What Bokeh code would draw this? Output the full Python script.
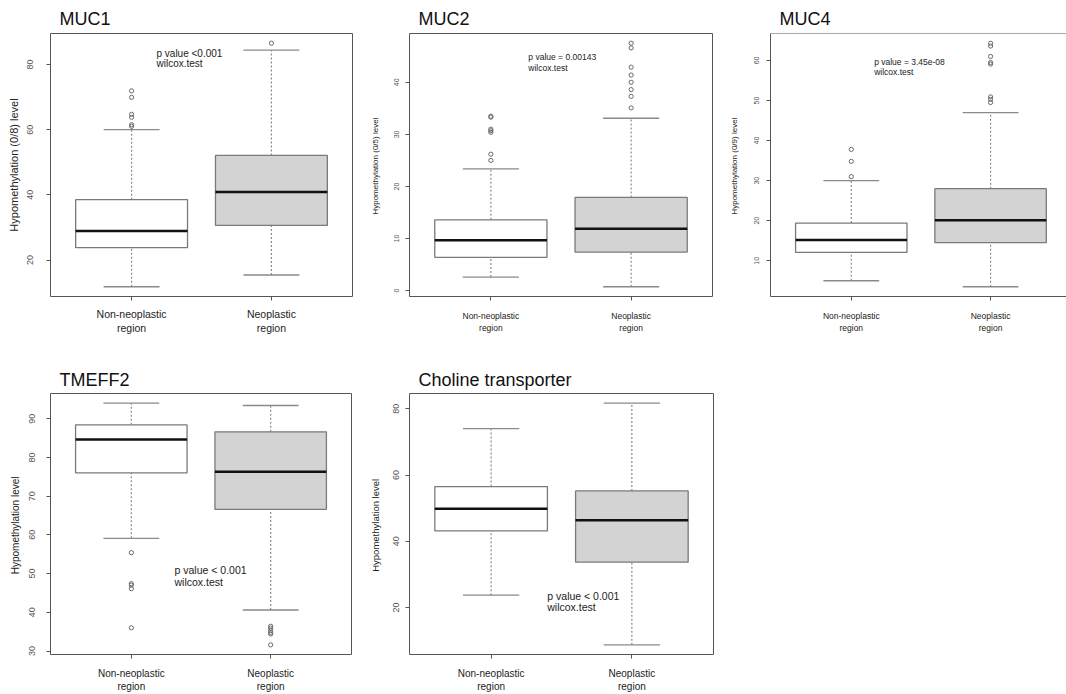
from bokeh.plotting import figure
from bokeh.models import Range1d, FixedTicker, Label, Span
from bokeh.layouts import column, row
from bokeh.embed import file_html
from bokeh.resources import INLINE

FONT = "Liberation Sans"

# ---------------- data ----------------
groups = ["Non-neoplastic\nregion", "Neoplastic\nregion"]

titles = ["MUC1", "MUC2", "MUC4", "TMEFF2", "Choline transporter"]
ylabels = ["Hypomethylation (0/8) level", "Hypomethylation  (0/5) level",
           "Hypomethylation  (0/9) level", "Hypomethylation  level", "Hypomethylation  level"]
yticks = [[20, 40, 60, 80], [0, 10, 20, 30, 40], [10, 20, 30, 40, 50, 60],
          [30, 40, 50, 60, 70, 80, 90], [20, 40, 60, 80]]
ptext = [["p value <0.001", "wilcox.test"],
         ["p value  = 0.00143", " wilcox.test"],
         ["p value  = 3.45e-08", "wilcox.test"],
         ["p value  < 0.001", "wilcox.test"],
         ["p value  < 0.001", "wilcox.test"]]

# box statistics: [non-neoplastic, neoplastic]
muc1_low = [11.8, 15.4]
muc1_q1 = [23.8, 30.6]
muc1_med = [28.9, 40.9]
muc1_q3 = [38.5, 52.1]
muc1_high = [60.0, 84.4]
muc1_out_non = [61.0, 61.5, 63.8, 64.7, 69.9, 71.9]
muc1_out_neo = [86.5]

muc2_low = [2.6, 0.75]
muc2_q1 = [6.4, 7.4]
muc2_med = [9.7, 11.9]
muc2_q3 = [13.6, 17.9]
muc2_high = [23.4, 33.1]
muc2_out_non = [25.0, 26.2, 30.4, 30.7, 31.0, 33.3, 33.5]
muc2_out_neo = [35.1, 37.3, 38.6, 40.0, 41.4, 42.9, 46.6, 47.5]

muc4_low = [5.0, 3.5]
muc4_q1 = [12.1, 14.5]
muc4_med = [15.2, 20.1]
muc4_q3 = [19.4, 28.0]
muc4_high = [30.0, 47.0]
muc4_out_non = [31.0, 34.8, 37.8]
muc4_out_neo = [49.5, 50.3, 50.9, 59.1, 59.5, 61.0, 63.6, 64.3]

tmeff2_low = [59.1, 40.6]
tmeff2_q1 = [76.0, 66.6]
tmeff2_med = [84.6, 76.3]
tmeff2_q3 = [88.4, 86.6]
tmeff2_high = [94.0, 93.4]
tmeff2_out_non = [55.4, 47.4, 47.0, 46.1, 36.0]
tmeff2_out_neo = [36.4, 35.9, 35.3, 34.8, 34.4, 31.6]

chol_low = [23.7, 8.7]
chol_q1 = [43.1, 33.7]
chol_med = [49.8, 46.3]
chol_q3 = [56.5, 55.2]
chol_high = [74.0, 81.7]
chol_out_non = []
chol_out_neo = []

stats = [
    (muc1_low, muc1_q1, muc1_med, muc1_q3, muc1_high, muc1_out_non, muc1_out_neo),
    (muc2_low, muc2_q1, muc2_med, muc2_q3, muc2_high, muc2_out_non, muc2_out_neo),
    (muc4_low, muc4_q1, muc4_med, muc4_q3, muc4_high, muc4_out_non, muc4_out_neo),
    (tmeff2_low, tmeff2_q1, tmeff2_med, tmeff2_q3, tmeff2_high, tmeff2_out_non, tmeff2_out_neo),
    (chol_low, chol_q1, chol_med, chol_q3, chol_high, chol_out_non, chol_out_neo),
]

# ---------------- layout / style per panel ----------------
cfg = [
    dict(w=360, h=345, bl=50, br=8, bt=33, bb=49, xend=2.58, tf="9px", lf="11px", xf="10.5px", pf="10px",
         ms=13, ls=5, xs=7, ts=10, pos=(1.178, 83.4, 80.3)),
    dict(w=360, h=345, bl=49, br=8, bt=33, bb=43, xend=2.58, tf="7px", lf="8px", xf="8.5px", pf="8.5px",
         ms=6, ls=12, xs=10, ts=10, pos=(1.267, 44.8, 42.7)),
    dict(w=346, h=345, bl=50, br=0, bt=33, bb=43, xend=2.545, tf="7px", lf="8px", xf="8.5px", pf="8.5px",
         ms=7, ls=13, xs=10, ts=10, pos=(1.164, 59.5, 57.2)),
    dict(w=360, h=349, bl=50, br=9, bt=48, bb=38, xend=2.58, tf="9px", lf="10px", xf="10px", pf="10.5px",
         ms=11, ls=6, xs=9, ts=8, pos=(1.31, 50.8, 47.7)),
    dict(w=360, h=349, bl=49, br=7, bt=48, bb=37, xend=2.58, tf="9px", lf="9.5px", xf="10px", pf="10.5px",
         ms=6, ls=10, xs=9, ts=8, pos=(1.399, 23.5, 20.0)),
]

FRAME = "#555555"
BOXLINE = "#7a7a7a"
WHISK = "#8a8a8a"
FILLS = ["white", "#d3d3d3"]


def make_panel(i):
    c = cfg[i]
    low, q1, med, q3, high, out_non, out_neo = stats[i]
    allv = low + high + out_non + out_neo
    lo, hi = min(allv), max(allv)
    span = hi - lo
    y0, y1 = lo - 0.04 * span, hi + 0.04 * span

    p = figure(width=c["w"], height=c["h"], x_range=Range1d(0.42, c["xend"]),
               y_range=Range1d(y0, y1), output_backend="svg", toolbar_location=None,
               min_border_left=c["bl"], min_border_right=c["br"],
               min_border_top=c["bt"], min_border_bottom=c["bb"])
    p.background_fill_color = "white"
    p.border_fill_color = "white"
    p.xgrid.visible = False
    p.ygrid.visible = False

    # title
    p.title.text = titles[i]
    p.title.text_font = FONT
    p.title.text_font_size = "18px"
    p.title.text_font_style = "normal"
    p.title.text_color = "#111111"
    p.title.align = "left"
    p.title.offset = 9
    p.title.standoff = c["ts"]
    p.title.text_line_height = 1.0

    xs = [1, 2]
    # whiskers (dashed)
    p.segment(x0=xs, y0=q3, x1=xs, y1=high, line_color=WHISK, line_width=1.2, line_dash="2 2")
    p.segment(x0=xs, y0=low, x1=xs, y1=q1, line_color=WHISK, line_width=1.2, line_dash="2 2")
    # caps
    p.segment(x0=[x - 0.2 for x in xs], y0=high, x1=[x + 0.2 for x in xs], y1=high,
              line_color=WHISK, line_width=1.3)
    p.segment(x0=[x - 0.2 for x in xs], y0=low, x1=[x + 0.2 for x in xs], y1=low,
              line_color=WHISK, line_width=1.3)
    # boxes
    p.vbar(x=xs, width=0.8, top=q3, bottom=q1, fill_color=FILLS, line_color=BOXLINE, line_width=1.3)
    # medians
    p.segment(x0=[x - 0.4 for x in xs], y0=med, x1=[x + 0.4 for x in xs], y1=med,
              line_color="#111111", line_width=2.5)
    # outliers
    ox = [1] * len(out_non) + [2] * len(out_neo)
    oy = out_non + out_neo
    if oy:
        p.scatter(x=ox, y=oy, marker="circle", size=4.2, fill_color=None,
                  line_color="#6a6a6a", line_width=1)

    # p-value text
    tx, ty1, ty2 = c["pos"]
    for t, ty in zip(ptext[i], [ty1, ty2]):
        p.add_layout(Label(x=tx, y=ty, text=t, text_font=FONT, text_font_size=c["pf"],
                           text_color="#222222", text_baseline="middle", text_align="left"))

    # axes
    xa = p.xaxis[0]
    xa.ticker = FixedTicker(ticks=xs)
    xa.major_label_overrides = {1: groups[0], 2: groups[1]}
    xa.major_label_text_font = FONT
    xa.major_label_text_font_size = c["xf"]
    xa.major_label_text_color = "#222222"
    xa.major_label_standoff = c["xs"]
    xa.major_tick_in = 0
    xa.major_tick_out = 4
    xa.major_tick_line_color = FRAME
    xa.minor_tick_line_color = None
    xa.axis_line_color = None

    ya = p.yaxis[0]
    ya.ticker = FixedTicker(ticks=yticks[i])
    ya.major_label_orientation = "vertical"
    ya.major_label_text_font = FONT
    ya.major_label_text_font_size = c["tf"]
    ya.major_label_text_color = "#555555"
    ya.major_label_standoff = c["ms"]
    ya.major_tick_in = 0
    ya.major_tick_out = 4
    ya.major_tick_line_color = FRAME
    ya.minor_tick_line_color = None
    ya.axis_line_color = None
    ya.axis_label = ylabels[i]
    ya.axis_label_text_font = FONT
    ya.axis_label_text_font_size = c["lf"]
    ya.axis_label_text_font_style = "normal"
    ya.axis_label_text_color = "#222222"
    ya.axis_label_standoff = c["ls"]

    if i == 2:
        # right edge of this panel runs off the page in the reference
        p.outline_line_color = None
        xa.axis_line_color = FRAME
        ya.axis_line_color = FRAME
        p.add_layout(Span(location=y1, dimension="width", line_color=FRAME, line_width=1))
    else:
        p.outline_line_color = FRAME
        p.outline_line_width = 1
        p.outline_line_alpha = 1.0
    return p


panels = [make_panel(i) for i in range(5)]
layout = column(row(panels[0], panels[1], panels[2]), row(panels[3], panels[4]))

open("out.html", "w").write(file_html(layout, INLINE))
